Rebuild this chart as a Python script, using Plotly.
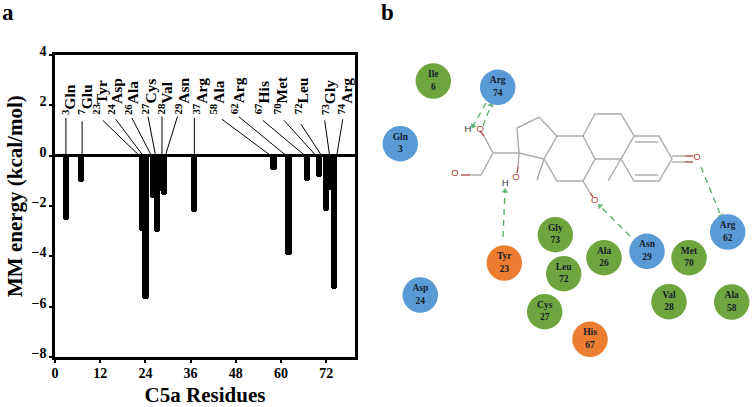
import plotly.graph_objects as go

# ---------- panel a data ----------
residues = [3, 7, 23, 24, 26, 27, 28, 29, 37, 58, 62, 67, 70, 72, 73, 74]
energies = [-2.55, -1.05, -3.0, -5.7, -1.7, -3.05, -1.4, -1.55, -2.25, -0.55, -3.95, -1.0, -0.85, -2.2, -1.35, -5.3]
names = ["Gln", "Glu", "Tyr", "Asp", "Ala", "Cys", "Val", "Asn", "Arg", "Ala", "Arg", "His", "Met", "Leu", "Gly", "Arg"]
x_ticks = [0, 12, 24, 36, 48, 60, 72]
y_ticks = [4, 2, 0, -2, -4, -6, -8]

# label placement and leader lines in panel a (residue units / kcal/mol)
label_x = [3.7, 8.1, 12.1, 16.1, 20.3, 24.9, 29.3, 33.8, 38.6, 43.0, 48.6, 55.0, 59.9, 65.6, 72.7, 77.1]
leader_top_x = [2.9, 7.2, 12.7, 16.1, 20.4, 24.7, 28.4, 32.5, 37.0, 44.3, 48.8, 55.2, 60.8, 65.3, 71.6, 76.4]
leader_top_y = [1.5, 1.37, 1.4, 1.45, 1.5, 1.55, 1.55, 1.55, 1.5, 1.45, 1.55, 1.4, 1.4, 1.25, 1.4, 1.45]
leader_end_x = [2.9, 7.2, 22.4, 23.4, 25.6, 26.7, 28.4, 29.3, 37.0, 57.3, 61.4, 66.4, 69.3, 70.8, 72.9, 74.8]

# ---------- panel b data ----------
node_names = ["Ile", "Arg", "Gln", "Tyr", "Gly", "Leu", "Ala", "Asn", "Met", "Arg", "Val", "Ala", "Cys", "His", "Asp"]
node_nums = [6, 74, 3, 23, 73, 72, 26, 29, 70, 62, 28, 58, 27, 67, 24]
node_kinds = ["h", "p", "p", "a", "h", "h", "h", "p", "h", "p", "h", "h", "h", "a", "p"]
node_x = [433.3, 497.7, 400.3, 504.3, 555.3, 563.7, 604, 647, 689, 727.7, 669, 731.7, 544.7, 590, 420.3]
node_y = [81, 87.3, 143.7, 263, 234.7, 273.7, 257.7, 251.3, 257.7, 232, 301.7, 302, 311.7, 339.3, 295]
kind_colors = {"h": "#6FA53F", "p": "#5B9BD5", "a": "#ED7D31"}

# ligand skeleton bonds, in the picture's panel b units
bonds = [
    [(519, 153), (517, 128), (539, 117), (557, 136), (544, 159), (519, 153)],
    [(557, 136), (583, 136), (595, 159), (583, 181), (557, 181), (544, 159)],
    [(583, 136), (595, 114), (621, 114), (634, 136), (621, 159), (595, 159)],
    [(634, 136), (659, 136), (672, 159), (659, 181), (634, 181), (621, 159)],
    [(635, 142), (658, 142)],
    [(635, 175), (658, 175)],
    [(672, 156), (685, 156)],
    [(672, 162), (685, 162)],
    [(544, 159), (537, 180)],
    [(621, 159), (608, 181)],
    [(519, 153), (493, 153), (484, 136)],
    [(493, 153), (481, 175), (470, 175)],
    [(519, 153), (518, 167)],
    [(583, 181), (590, 193)],
]
red_bonds = [
    [(685, 156), (693, 156)],
    [(685, 162), (693, 162)],
    [(484, 136), (480, 131)],
    [(470, 175), (461, 175)],
    [(518, 167), (517, 173)],
    [(590, 193), (593, 197)],
]
atom_x = [480.3, 468, 455, 516, 505.3, 594.7, 697]
atom_y = [130, 130, 174, 177.3, 183.3, 201, 157.3]
atom_text = ["O", "H", "O", "O", "H", "O", "O"]

hbonds = [
    [(486, 103), (473, 126)],
    [(483, 126), (491, 105)],
    [(503, 237), (505, 191)],
    [(630, 236), (600, 206)],
    [(701, 167), (721, 216)],
]

SERIF = "Liberation Serif"
fig = go.Figure()

fig.add_trace(go.Bar(
    x=residues, y=energies, width=1.65, marker=dict(color="black", line_width=0, cornerradius=3),
    xaxis="x", yaxis="y", showlegend=False))

for a, b, c in zip(leader_top_x, leader_top_y, leader_end_x):
    fig.add_trace(go.Scatter(x=[a, c], y=[b, 0], mode="lines", line=dict(color="black", width=1),
                             xaxis="x", yaxis="y", showlegend=False, hoverinfo="skip"))

for seg in bonds:
    fig.add_trace(go.Scatter(x=[p[0] for p in seg], y=[p[1] for p in seg], mode="lines",
                             line=dict(color="#aeaaa8", width=1.4), xaxis="x2", yaxis="y2",
                             showlegend=False, hoverinfo="skip"))
for seg in red_bonds:
    fig.add_trace(go.Scatter(x=[p[0] for p in seg], y=[p[1] for p in seg], mode="lines",
                             line=dict(color="#b0524f", width=1.4), xaxis="x2", yaxis="y2",
                             showlegend=False, hoverinfo="skip"))

fig.add_trace(go.Scatter(
    x=atom_x, y=atom_y, text=atom_text, mode="text",
    textfont=dict(family="Liberation Sans", size=9.5,
                  color=["#a8403c" if t == "O" else "#333333" for t in atom_text]),
    xaxis="x2", yaxis="y2", showlegend=False, hoverinfo="skip"))

for seg in hbonds:
    fig.add_trace(go.Scatter(
        x=[p[0] for p in seg], y=[p[1] for p in seg], mode="lines+markers",
        line=dict(color="#4FAF68", width=1.3, dash="6px,5px"),
        marker=dict(symbol="triangle-up", size=[0, 6], angleref="previous", color="#2F9E4F", line_width=0),
        xaxis="x2", yaxis="y2", showlegend=False, hoverinfo="skip"))

fig.add_trace(go.Scatter(
    x=node_x, y=node_y, mode="markers+text",
    marker=dict(size=35.5, color=[kind_colors[k] for k in node_kinds], line_width=0),
    text=[f"{n}<br>{m}" for n, m in zip(node_names, node_nums)],
    textposition="middle center",
    textfont=dict(family=SERIF, size=9.5, color="#14202c", weight="bold"),
    xaxis="x2", yaxis="y2", showlegend=False, hoverinfo="text"))

annotations = [
    dict(text=f"<sup>{r}</sup>{n}", x=x, y=1.55, xref="x", yref="y", textangle=-90, showarrow=False,
         xanchor="center", yanchor="bottom", font=dict(family=SERIF, size=15.5, color="black", weight="bold"))
    for r, n, x in zip(residues, names, label_x)
]
annotations += [
    dict(text="MM energy (kcal/mol)", x=15 / 752, y=1 - 196 / 407, xref="paper", yref="paper", textangle=-90,
         xanchor="center", yanchor="middle", showarrow=False,
         font=dict(family=SERIF, size=21, color="black", weight="bold")),
    dict(text="a", x=8 / 752, y=1 - 13 / 407, xref="paper", yref="paper", showarrow=False,
         xanchor="center", yanchor="middle", font=dict(family=SERIF, size=23, color="black", weight="bold")),
    dict(text="b", x=387 / 752, y=1 - 12 / 407, xref="paper", yref="paper", showarrow=False,
         xanchor="center", yanchor="middle", font=dict(family=SERIF, size=23, color="black", weight="bold")),
]

fig.update_layout(
    width=752, height=407, margin=dict(l=0, r=0, t=0, b=0), autosize=False,
    paper_bgcolor="white", plot_bgcolor="white", bargap=0,
    font=dict(family=SERIF, color="black"),
    annotations=annotations,
    xaxis=dict(domain=[55 / 752, 355 / 752], range=[0, 79.65], tickvals=x_ticks, ticks="outside", ticklen=3,
               tickwidth=2, tickcolor="black", showgrid=False, zeroline=False, showline=True, linecolor="black",
               linewidth=2.5, mirror=True, anchor="y", automargin=False, ticklabelstandoff=-2,
               tickfont=dict(family=SERIF, size=14, weight="bold"),
               title=dict(text="C5a Residues", standoff=12, font=dict(family=SERIF, size=21, weight="bold"))),
    yaxis=dict(domain=[1 - 357 / 407, 1 - 55 / 407], range=[-8, 4], tickvals=y_ticks, ticks="outside", ticklen=3,
               tickwidth=2, tickcolor="black", showgrid=False, zeroline=True, zerolinecolor="black",
               zerolinewidth=2.5, showline=True, linecolor="black", linewidth=2.5, mirror=True, anchor="x",
               automargin=False, ticklabelshift=-4, tickfont=dict(family=SERIF, size=14, weight="bold")),
    xaxis2=dict(domain=[376 / 752, 1], range=[376, 752], visible=False, anchor="y2", automargin=False),
    yaxis2=dict(domain=[0, 1], range=[407, 0], visible=False, anchor="x2", automargin=False),
)
fig.write_html("out.html", config={"displayModeBar": False},
               post_script="document.body.style.margin='0';document.documentElement.style.overflow='hidden';")
